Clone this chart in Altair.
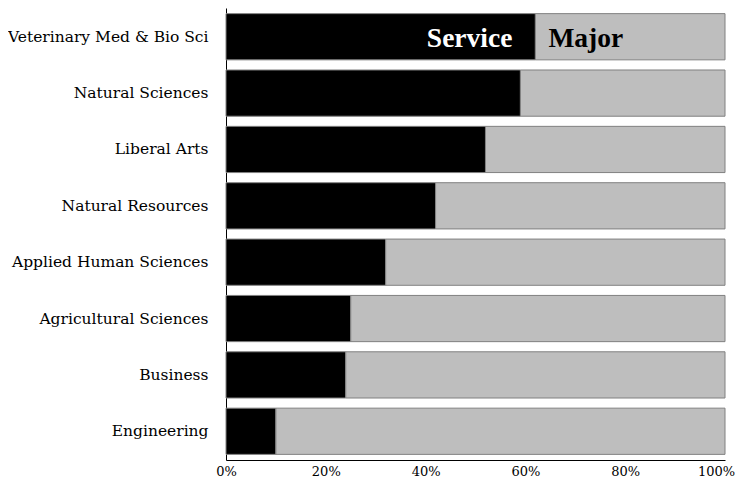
import altair as alt
import pandas as pd

colleges = ["Veterinary Med & Bio Sci", "Natural Sciences", "Liberal Arts",
            "Natural Resources", "Applied Human Sciences ", "Agricultural Sciences ",
            "Business", "Engineering"]
service = [62, 59, 52, 42, 32, 25, 24, 10]
major = [38, 41, 48, 58, 68, 75, 76, 90]

rows = []
for c, s, m in zip(colleges, service, major):
    rows.append({"college": c, "type": "Service", "value": s / 100, "ord": 0})
    rows.append({"college": c, "type": "Major", "value": m / 100, "ord": 1})
df = pd.DataFrame(rows)

label_df = pd.DataFrame({
    "college": [colleges[0], colleges[0]],
    "label": ["Service", "Major"],
    "pos": [service[0] / 100, service[0] / 100],
})

FONT = "DejaVu Serif"
BIG = "Liberation Serif"

bars = alt.Chart(df).mark_bar(stroke="#808080", strokeWidth=1).encode(
    y=alt.Y("college:N", sort=colleges, title=None,
            scale=alt.Scale(paddingInner=0.18, paddingOuter=0.1),
            axis=alt.Axis(ticks=False, labelPadding=18, labelFontSize=15.5,
                          labelFont=FONT, labelColor="black", domainColor="black",
                          labelLimit=300)),
    x=alt.X("value:Q", stack="zero", title=None,
            scale=alt.Scale(domain=[0, 1], nice=False),
            axis=alt.Axis(format="%", values=[0, 0.2, 0.4, 0.6, 0.8, 1.0],
                          ticks=False, grid=False, labelPadding=5, labelFontSize=13,
                          labelFlush=False,
                          labelOffset=alt.condition("datum.value == 1", alt.value(-9), alt.value(0)),
                          labelFont=FONT, labelColor="black", domainColor="black")),
    color=alt.Color("type:N", scale=alt.Scale(domain=["Service", "Major"],
                                              range=["#000000", "#bebebe"]), legend=None),
    order=alt.Order("ord:Q"),
)

svc = alt.Chart(label_df).transform_filter(alt.datum.label == "Service").mark_text(
    align="right", baseline="middle", dx=-23, dy=2, font=BIG, fontSize=27.5,
    fontWeight="bold", color="white").encode(
    y=alt.Y("college:N", sort=colleges), x="pos:Q", text="label:N")

maj = alt.Chart(label_df).transform_filter(alt.datum.label == "Major").mark_text(
    align="left", baseline="middle", dx=13, dy=2, font=BIG, fontSize=27.5,
    fontWeight="bold", color="black").encode(
    y=alt.Y("college:N", sort=colleges), x="pos:Q", text="label:N")

chart = alt.layer(bars, svc, maj).properties(
    width=499, height=452,
    padding={"left": 218, "top": 0, "right": 10, "bottom": 17},
    autosize=alt.AutoSizeParams(type="none"),
).configure_view(stroke=None).configure_axis(domainWidth=1)

chart.save("out.html", embed_options={"renderer": "svg", "actions": False})
